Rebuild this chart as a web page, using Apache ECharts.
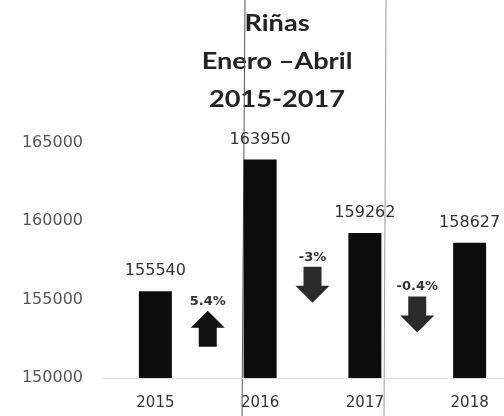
<!DOCTYPE html>
<html>
<head>
<meta charset="utf-8">
<script src="https://cdn.jsdelivr.net/npm/echarts@6/dist/echarts.min.js"></script>
<style>
  html, body { margin: 0; padding: 0; background: #fff; }
  #chart { width: 504px; height: 416px; }
</style>
</head>
<body>
<div id="chart"></div>
<script>
// Riñas, enero–abril, by year
const years = ['2015', '2016', '2017', '2018'];
const rinas = [155540, 163950, 159262, 158627];
const yTicks = { min: 150000, max: 165000, interval: 5000 };

// Year-over-year change between consecutive bars
const changes = ['5.4%', '-3%', '-0.4%'];
const changeDir = ['up', 'down', 'down'];

// Vertical placement of each change arrow (in axis units)
const arrowLevels = [153150, 155950, 154050];

const chart = echarts.init(document.getElementById('chart'), null, { renderer: 'canvas' });

const FONT = 'DejaVu Sans';

function renderArrow(params, api) {
  const i = params.dataIndex;
  const p = api.coord([api.value(0), api.value(1)]);
  const bw = api.size([1, 0])[0];
  const cx = p[0] + bw / 2;
  const cy = p[1];
  const w = 34, h = 36, headH = 17, shaftW = 18;
  const s = changeDir[i] === 'up' ? 1 : -1;
  const tip = cy - s * h / 2;
  const base = cy + s * h / 2;
  const neck = tip + s * headH;
  const pts = [
    [cx, tip], [cx + w / 2, neck], [cx + shaftW / 2, neck], [cx + shaftW / 2, base],
    [cx - shaftW / 2, base], [cx - shaftW / 2, neck], [cx - w / 2, neck]
  ];
  const top = Math.min(tip, base);
  return {
    type: 'group',
    children: [
      { type: 'polygon', shape: { points: pts }, style: { fill: changeDir[i] === 'up' ? '#111' : '#2a2a2a' } },
      {
        type: 'text',
        style: {
          text: changes[i], x: cx, y: top - 3, align: 'center', verticalAlign: 'bottom',
          font: 'bold 13px ' + FONT, fill: '#333'
        }
      }
    ]
  };
}

chart.setOption({
  animation: false,
  grid: { left: 103, top: 143, bottom: 38, right: -18, outerBoundsMode: 'none', containLabel: false },
  xAxis: {
    type: 'category',
    data: years,
    axisLine: { show: true, lineStyle: { color: '#dcdcdc', width: 1 } },
    axisTick: { show: false },
    axisLabel: { color: '#333', fontFamily: FONT, fontSize: 15, margin: 18 }
  },
  yAxis: {
    type: 'value',
    min: yTicks.min, max: yTicks.max, interval: yTicks.interval,
    axisLine: { show: false },
    axisTick: { show: false },
    splitLine: { show: false },
    axisLabel: { color: '#555', fontFamily: FONT, fontSize: 16, margin: 20, formatter: v => String(v) }
  },
  series: [
    {
      type: 'bar',
      data: rinas,
      barWidth: 33,
      itemStyle: { color: '#0c0c0c' },
      label: {
        show: true, position: 'top', distance: 12,
        color: '#333', fontFamily: FONT, fontSize: 16
      }
    },
    {
      type: 'custom',
      renderItem: renderArrow,
      data: arrowLevels.map((lvl, i) => [i, lvl]),
      z: 5
    }
  ],
  graphic: [
    {
      type: 'text',
      x: 277, y: 5, scaleX: 1.18,
      style: {
        text: 'Riñas\nEnero –Abril\n2015-2017',
        x: 0, y: 0, align: 'center', verticalAlign: 'top',
        font: 'bold 23px Lato', lineHeight: 38, fill: '#222'
      }
    },
    { type: 'line', shape: { x1: 245, y1: 0, x2: 242, y2: 416 }, style: { stroke: '#555', lineWidth: 1 } },
    { type: 'line', shape: { x1: 386, y1: 0, x2: 384, y2: 416 }, style: { stroke: '#999', lineWidth: 1 } }
  ]
});
</script>
</body>
</html>
